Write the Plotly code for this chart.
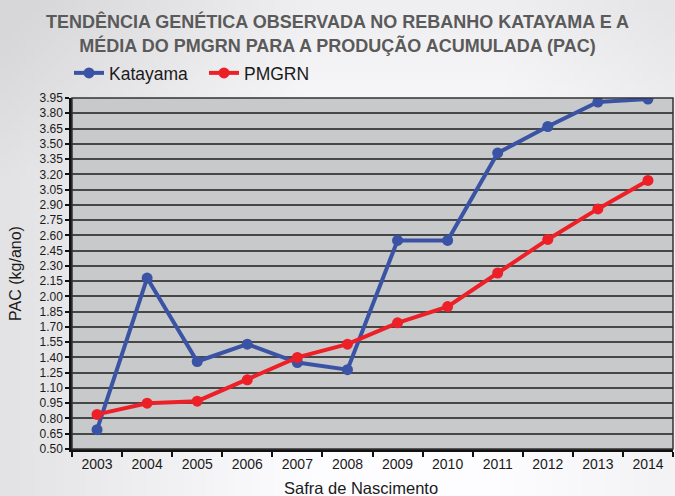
import base64, struct, zlib
import plotly.graph_objects as go

years = ["2003", "2004", "2005", "2006", "2007", "2008", "2009", "2010", "2011", "2012", "2013", "2014"]
katayama = [0.69, 2.18, 1.36, 1.53, 1.35, 1.28, 2.55, 2.55, 3.41, 3.67, 3.91, 3.94]
pmgrn = [0.84, 0.95, 0.97, 1.18, 1.40, 1.53, 1.74, 1.90, 2.23, 2.56, 2.86, 3.14]
y_ticks = [round(0.50 + 0.15 * i, 2) for i in range(24)]

W, H = 675, 496
ML, MR, MT, MB = 72, 2, 98, 47
PW, PH = W - ML - MR, H - MT - MB


def gradient_png(w=90, h=66):
    rows = []
    for j in range(h):
        fy = j / (h - 1)
        row = bytearray([0])
        for i in range(w):
            fx = i / (w - 1)
            d = 0.0
            d += max(0.0, 0.45 - fx) / 0.45 * 26
            d += max(0.0, fx - 0.75) / 0.25 * 10
            d += max(0.0, 0.35 - fy) / 0.35 * 14
            v = int(max(215, min(255, 253 - d)))
            row += bytes([v, v, min(255, v + 2)])
        rows.append(bytes(row))
    raw = b"".join(rows)

    def chunk(t, d):
        c = struct.pack(">I", len(d)) + t + d
        return c + struct.pack(">I", zlib.crc32(t + d) & 0xFFFFFFFF)

    png = b"\x89PNG\r\n\x1a\n" + chunk(b"IHDR", struct.pack(">IIBBBBB", w, h, 8, 2, 0, 0, 0))
    png += chunk(b"IDAT", zlib.compress(raw)) + chunk(b"IEND", b"")
    return "data:image/png;base64," + base64.b64encode(png).decode()


fig = go.Figure()
fig.add_trace(go.Scatter(x=years, y=katayama, name="Katayama", mode="lines+markers",
                         line=dict(color="#3a53a4", width=4), marker=dict(size=11, color="#3a53a4")))
fig.add_trace(go.Scatter(x=years, y=pmgrn, name="PMGRN", mode="lines+markers",
                         line=dict(color="#ee2027", width=4), marker=dict(size=11, color="#ee2027")))

fig.update_layout(
    width=W, height=H,
    margin=dict(l=ML, r=MR, t=MT, b=MB),
    paper_bgcolor="#f2f2f3",
    plot_bgcolor="rgba(0,0,0,0)",
    font=dict(family="Liberation Sans, Arial, sans-serif", color="#1a1a1a"),
    title=dict(
        text="TENDÊNCIA GENÉTICA OBSERVADA NO REBANHO KATAYAMA E A<br>MÉDIA DO PMGRN PARA A PRODUÇÃO ACUMULADA (PAC)",
        x=0.5, xanchor="center", y=0.943, yanchor="top",
        font=dict(size=18, color="#5a5a5a", weight="bold",
                  family="Liberation Sans Narrow, Liberation Sans, Arial"),
    ),
    showlegend=True,
    legend=dict(orientation="h", x=-0.005, xanchor="left", y=1 + 25 / PH, yanchor="middle",
                entrywidth=90, entrywidthmode="pixels",
                font=dict(size=17.5, color="#1a1a1a"), bgcolor="rgba(0,0,0,0)", traceorder="normal"),
    xaxis=dict(
        type="category", range=[-0.5, 11.5], tickson="boundaries",
        ticks="outside", ticklen=5, tickwidth=2, tickcolor="#111",
        showline=True, linecolor="#111", linewidth=2.5,
        showgrid=False, tickfont=dict(size=14, color="#1a1a1a"),
    ),
    yaxis=dict(
        range=[0.5, 3.95], tickvals=y_ticks, tickformat=".2f",
        ticks="outside", ticklen=4, tickwidth=1.5, tickcolor="#111",
        showline=True, linecolor="#111", linewidth=2.5,
        showgrid=True, gridcolor="#474747", gridwidth=1.5, zeroline=False,
        tickfont=dict(size=12, color="#1a1a1a"),
        title=dict(text="PAC (kg/ano)", font=dict(size=16, color="#1a1a1a"), standoff=14),
    ),
    annotations=[dict(text="Safra de Nascimento", xref="paper", yref="paper",
                      x=(361 - ML) / PW, y=-(488 - (MT + PH)) / PH, xanchor="center", yanchor="middle",
                      showarrow=False, font=dict(size=16.5, color="#1a1a1a"))],
    images=[dict(source=gradient_png(), xref="paper", yref="paper",
                 x=-ML / PW, y=1 + MT / PH, sizex=W / PW, sizey=H / PH,
                 xanchor="left", yanchor="top", sizing="stretch", layer="below")],
    shapes=[
        dict(type="rect", xref="paper", yref="paper", x0=0, x1=1, y0=0, y1=1,
             fillcolor="#c8c9cb", line=dict(width=0), layer="below"),
        dict(type="rect", xref="paper", yref="paper", x0=0, x1=1, y0=0, y1=1,
             fillcolor="rgba(0,0,0,0)", line=dict(color="#333", width=1.5), layer="above"),
    ],
)

fig.write_html("out.html", config={"displayModeBar": False},
               post_script="document.body.style.margin='0';document.body.style.overflow='hidden';")
